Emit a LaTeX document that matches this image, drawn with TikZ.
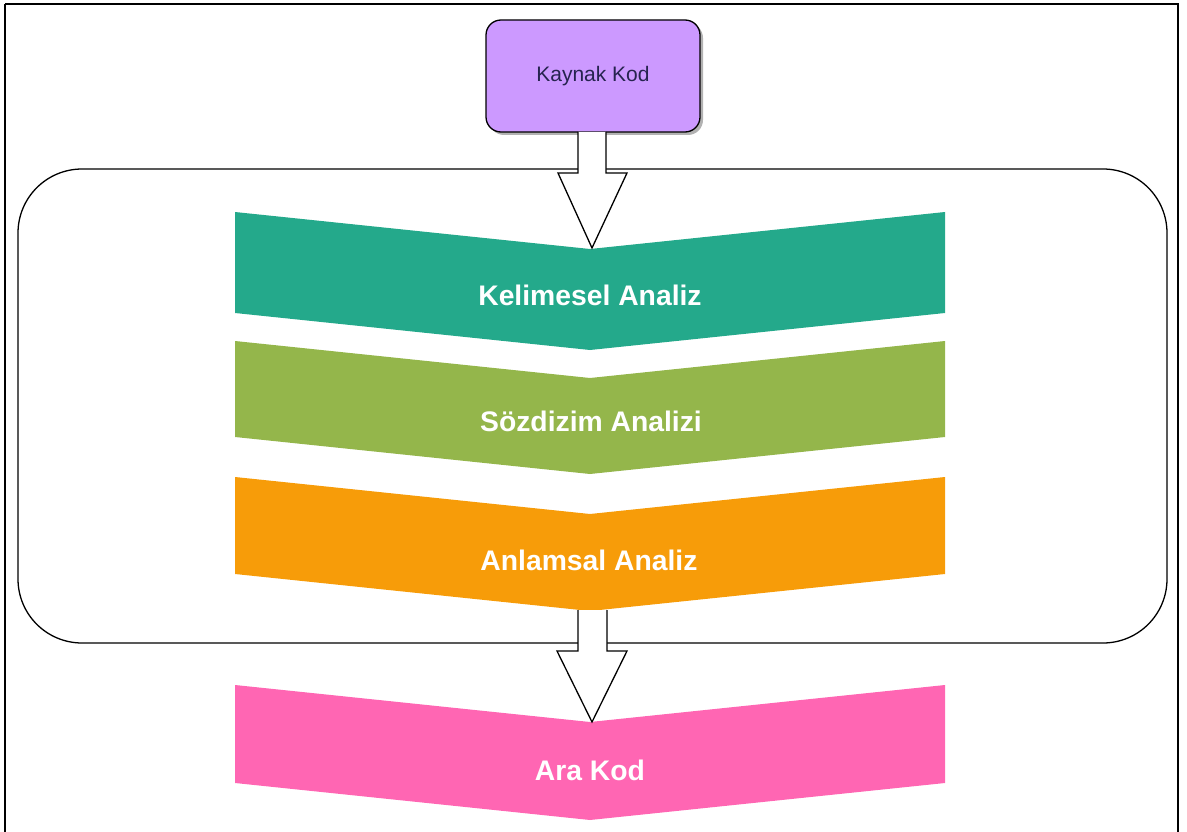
\documentclass[tikz,border=0pt]{standalone}
\usepackage{fontspec}
\setmainfont{Liberation Sans}
\usetikzlibrary{shadows}
\definecolor{kaynakfill}{HTML}{CC99FF}
\definecolor{kaynaktext}{HTML}{26234F}
\definecolor{lexgreen}{HTML}{24A98B}
\definecolor{synolive}{HTML}{94B64B}
\definecolor{semorange}{HTML}{F79C09}
\definecolor{irpink}{HTML}{FF66B3}
\tikzset{
  framebox/.style={draw=black, line width=1.6pt},
  stagegroup/.style={draw=black, line width=1.3pt, rounded corners=64pt},
  srcbox/.style={draw=black, line width=1.3pt, fill=kaynakfill, rounded corners=15pt,
    minimum width=214pt, minimum height=112pt, inner sep=0pt,
    font=\fontsize{21}{25}\selectfont, text=kaynaktext,
    drop shadow={shadow xshift=3pt, shadow yshift=-3pt, opacity=0.3, fill=black}},
  stagelabel/.style={text=white, font=\bfseries\fontsize{28.3}{32}\selectfont, inner sep=0pt},
  blockarrow/.style={draw=black, line width=1.3pt, fill=white, line join=miter},
}
% chevron band: colour, top y, bottom y (left 235, right 945, centre 590, depth 37)
\newcommand{\chevronband}[3]{%
  \fill[#1] (235,#2) -- (590,#2+37) -- (945,#2) -- (945,#3) -- (590,#3+37) -- (235,#3) -- cycle;}
\begin{document}
\begin{tikzpicture}[x=1pt,y=-1pt]
\useasboundingbox (0,0) rectangle (1187,832);
% outer frame
\draw[framebox] (5,4) -- (1178,4) -- (1178,840) (5,4) -- (5,840);
% group of analysis stages
\draw[stagegroup] (18,169) rectangle (1167,643);
% stage bands
\chevronband{lexgreen}{212}{313}
\chevronband{synolive}{341}{437}
\chevronband{semorange}{477}{574}
\chevronband{irpink}{685}{783}
\node[stagelabel] (lex) at (590,295) {Kelimesel Analiz};
\node[stagelabel] (syn) at (591,421) {Sözdizim Analizi};
\node[stagelabel] (sem) at (589,560) {Anlamsal Analiz};
\node[stagelabel] (ir)  at (590,770) {Ara Kod};
% source box
\node[srcbox] (src) at (593,76) {Kaynak Kod};
% block arrows
\coordinate (a1tip) at (592,248);
\coordinate (a2tip) at (592,722);
\draw[blockarrow] (578,132) -- (578,173) -- (558,173) -- (a1tip) -- (627,173) -- (606,173) -- (606,132);
\draw[blockarrow] (578,610) -- (578,651) -- (557,651) -- (a2tip) -- (627,651) -- (607,651) -- (607,610);
\end{tikzpicture}
\end{document}
